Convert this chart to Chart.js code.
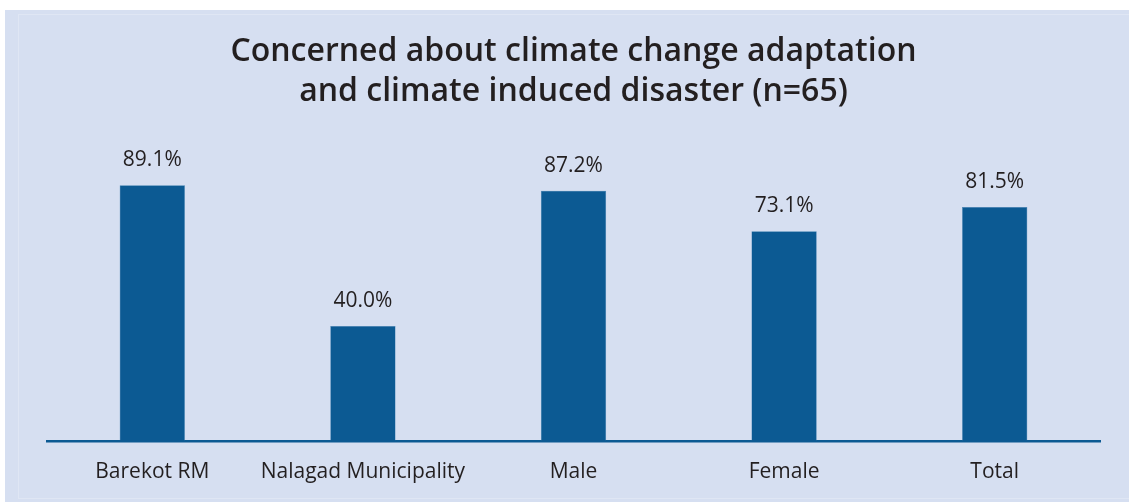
<!DOCTYPE html>
<html>
<head>
<meta charset="utf-8">
<script src="https://cdn.jsdelivr.net/npm/chart.js@4"></script>
<style>
  body { margin: 0; background: #ffffff; }
  #panel {
    position: absolute; left: 5px; top: 10px; width: 1124px; height: 492px;
    background: #d6dff1;
  }
  #inner {
    position: absolute; left: 13px; top: 4px; right: -5px; bottom: 3px;
    border: 1px solid #dfe6f4; border-right: none;
  }
  #wrap { position: absolute; left: 0; top: 0; width: 1129px; height: 502px; }
</style>
</head>
<body>
<div id="panel"><div id="inner"></div></div>
<div id="wrap"><canvas id="myChart" width="1129" height="502"></canvas></div>
<script>
// DATA
const categories = ['Barekot RM', 'Nalagad Municipality', 'Male', 'Female', 'Total'];
const concerned = [89.1, 40.0, 87.2, 73.1, 81.5];
const titleLines = ['Concerned about climate change adaptation', 'and climate induced disaster (n=65)'];

const barBlue = '#0c5a93';
const textColor = '#231f20';
const fontName = "'Open Sans'";

// value labels above bars
const barLabels = {
  id: 'barLabels',
  afterDatasetsDraw(chart) {
    const ctx = chart.ctx;
    const meta = chart.getDatasetMeta(0);
    ctx.save();
    ctx.font = '21px ' + fontName;
    ctx.fillStyle = textColor;
    ctx.textAlign = 'center';
    ctx.textBaseline = 'middle';
    meta.data.forEach((bar, i) => {
      ctx.fillText(concerned[i].toFixed(1) + '%', bar.x, bar.y - 25);
    });
    ctx.restore();
  }
};

const config = {
  type: 'bar',
  data: {
    labels: categories,
    datasets: [{
      label: 'Concerned',
      data: concerned,
      backgroundColor: barBlue,
      borderColor: '#3f7fb0',
      borderWidth: 0.5,
      barPercentage: 0.31,
      categoryPercentage: 1
    }]
  },
  options: {
    responsive: false,
    animation: false,
    layout: { padding: { left: 47, right: 29, top: 22, bottom: 6 } },
    plugins: {
      legend: { display: false },
      tooltip: { enabled: false },
      title: {
        display: true,
        text: titleLines,
        color: textColor,
        font: { family: fontName, size: 32, weight: '600', lineHeight: 1.25 },
        padding: { top: 10, bottom: 42 }
      }
    },
    scales: {
      x: {
        grid: { display: false },
        border: { display: true, color: barBlue, width: 2.5 },
        ticks: { color: textColor, font: { family: fontName, size: 21 }, padding: 11 }
      },
      y: {
        display: false,
        min: 0,
        max: 100
      }
    }
  },
  plugins: [barLabels]
};

const myChart = new Chart(document.getElementById('myChart'), config);
</script>
</body>
</html>
